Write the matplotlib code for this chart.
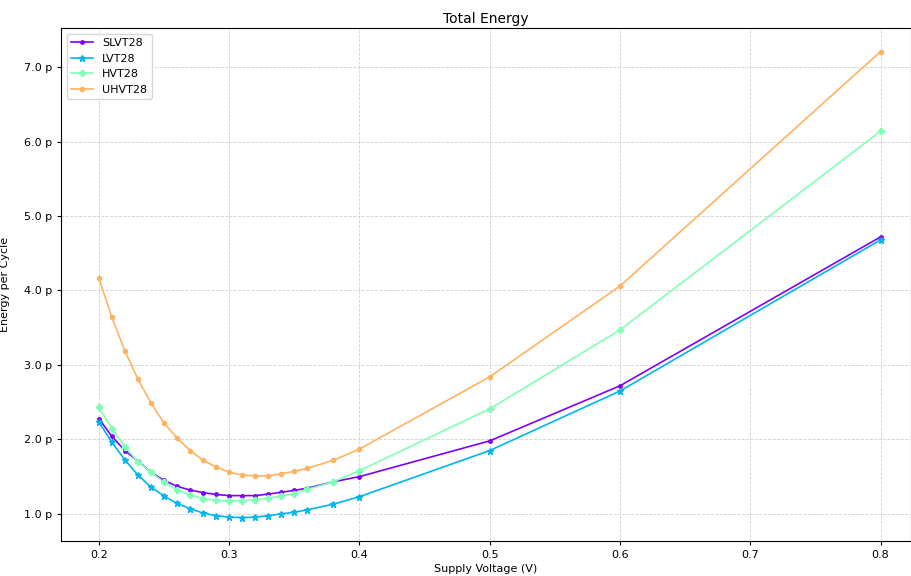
import matplotlib
matplotlib.use("Agg")
import matplotlib.pyplot as plt
import numpy as np
from matplotlib.ticker import EngFormatter

# supply voltage sweep (V)
vdd = [0.20, 0.21, 0.22, 0.23, 0.24, 0.25, 0.26, 0.27, 0.28, 0.29, 0.30,
       0.31, 0.32, 0.33, 0.34, 0.35, 0.36, 0.38, 0.40, 0.50, 0.60, 0.80]

# energy per cycle (pJ)
slvt = [2.28, 2.04, 1.85, 1.71, 1.56, 1.45, 1.37, 1.32, 1.285, 1.26, 1.245,
        1.245, 1.245, 1.265, 1.29, 1.315, 1.345, 1.43, 1.50, 1.98, 2.72, 4.72]
lvt = [2.235, 1.96, 1.725, 1.52, 1.36, 1.24, 1.14, 1.07, 1.01, 0.975, 0.955,
       0.95, 0.955, 0.975, 1.0, 1.02, 1.055, 1.13, 1.23, 1.85, 2.65, 4.68]
hvt = [2.43, 2.145, 1.90, 1.70, 1.56, 1.425, 1.32, 1.255, 1.205, 1.18, 1.17,
       1.175, 1.19, 1.21, 1.24, 1.27, 1.33, 1.43, 1.58, 2.41, 3.47, 6.14]
uhvt = [4.17, 3.64, 3.19, 2.81, 2.49, 2.22, 2.02, 1.85, 1.72, 1.63, 1.56,
        1.52, 1.51, 1.51, 1.54, 1.57, 1.61, 1.72, 1.87, 2.84, 4.06, 7.21]

names = ["SLVT28", "LVT28", "HVT28", "UHVT28"]
series = [slvt, lvt, hvt, uhvt]
markers = [".", "*", "P", "o"]
msizes = [5, 5, 5, 3]
colors = plt.cm.rainbow(np.linspace(0, 1, 5))

fig, ax = plt.subplots(figsize=(9.11, 5.76), dpi=100)
fig.subplots_adjust(left=0.067, right=0.9995, top=0.951, bottom=0.061)

for name, ys, m, ms, c in zip(names, series, markers, msizes, colors):
    ax.plot(vdd, np.array(ys) * 1e-12, marker=m, ms=ms, color=c, label=name, lw=1.2)

ax.set_xlim(0.171, 0.823)
ax.yaxis.set_major_formatter(EngFormatter(places=1))
ax.grid(True, linestyle="--", color="#d0d0d0", lw=0.6)
ax.set_title("Total Energy", fontsize=10, pad=4)
ax.set_xlabel("Supply Voltage (V)", fontsize=8, labelpad=3)
ax.set_ylabel("Energy per Cycle", fontsize=8, labelpad=10)
ax.tick_params(labelsize=8, length=3)
ax.legend(loc="upper left", fontsize=8)

fig.savefig("out.png", dpi=100)
